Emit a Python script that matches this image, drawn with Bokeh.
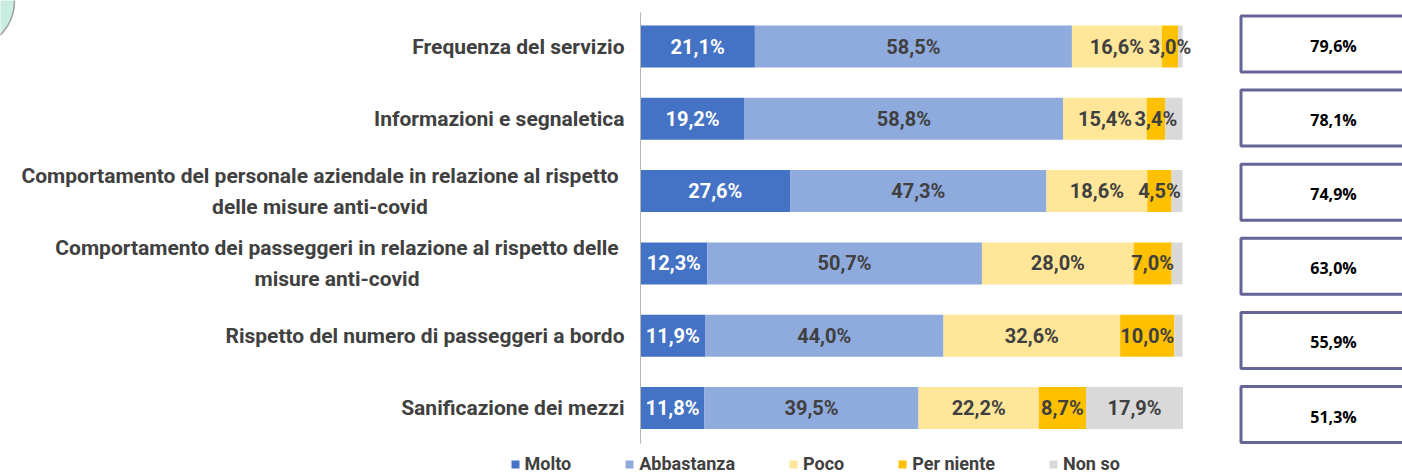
import numpy as np
from bokeh.plotting import figure
from bokeh.models import ColumnDataSource, Range1d, Legend, LegendItem
from bokeh.core.properties import value
from bokeh.embed import file_html
from bokeh.resources import INLINE

# ---------------- data ----------------
categories = [
    "Frequenza del servizio",
    "Informazioni e segnaletica",
    "Comportamento del personale aziendale in relazione al rispetto\ndelle misure anti-covid",
    "Comportamento dei passeggeri in relazione al rispetto delle\nmisure anti-covid",
    "Rispetto del numero di passeggeri a bordo",
    "Sanificazione dei mezzi",
]
series = ["Molto", "Abbastanza", "Poco", "Per niente", "Non so"]
molto = [21.1, 19.2, 27.6, 12.3, 11.9, 11.8]
abbastanza = [58.5, 58.8, 47.3, 50.7, 44.0, 39.5]
poco = [16.6, 15.4, 18.6, 28.0, 32.6, 22.2]
per_niente = [3.0, 3.4, 4.5, 7.0, 10.0, 8.7]
non_so = [0.8, 3.2, 2.0, 2.0, 1.5, 17.9]
soddisfatti = [79.6, 78.1, 74.9, 63.0, 55.9, 51.3]

# ---------------- style ----------------
colors = ["#4472C4", "#8FAADC", "#FFE699", "#FFC000", "#D9D9D9"]
label_colors = ["#FFFFFF", "#404040", "#404040", "#404040", "#404040"]
FONT_NAME = "Roboto"
FONT = value(FONT_NAME)
TXT = "#404040"

W, H = 1402, 473
PX = 5.42            # screen px per percentage point
X0 = 640             # frame px of 0 %
ROW = 72.3           # screen px between rows
Y0 = 46              # frame px of first row centre
xmin = -X0 / PX
xmax = xmin + W / PX
ytop = -Y0 / ROW
ybot = ytop + H / ROW


def fx(ix):  # screen pixel -> data x
    return (ix - X0) / PX


def fy(iy):  # screen pixel -> data y
    return iy / ROW + ytop


p = figure(width=W, height=H, x_range=Range1d(xmin, xmax),
           y_range=Range1d(start=ybot, end=ytop),
           output_backend="svg", toolbar_location=None,
           x_axis_location=None, y_axis_location=None,
           min_border=0, outline_line_color=None)
p.grid.visible = False
p.background_fill_color = "white"
p.border_fill_color = "white"

# decorative circle (top-left corner)
p.circle(x=[fx(-35)], y=[fy(0)], radius=49, radius_units="screen",
         fill_color="#C8EDDF", line_color="#A0A0A0", line_width=1.5)

rows = np.arange(len(categories))
vals = np.array([molto, abbastanza, poco, per_niente, non_so])
lefts = np.vstack([np.zeros(len(categories)), np.cumsum(vals, axis=0)[:-1]])
rights = lefts + vals
BAR_H = 42 / ROW

renderers = []
for k, name in enumerate(series):
    src = ColumnDataSource(dict(y=rows, left=lefts[k], right=rights[k]))
    r = p.hbar(y="y", left="left", right="right", height=BAR_H, source=src,
               fill_color=colors[k], line_color=None)
    renderers.append(r)

for k, name in enumerate(series):
    thr = 5 if name == "Non so" else 0
    mask = vals[k] >= thr
    lab = ColumnDataSource(dict(
        x=((lefts[k] + rights[k]) / 2)[mask], y=rows[mask],
        t=[f"{v:.1f}%".replace(".", ",") for v in vals[k][mask]]))
    p.text(x="x", y="y", text="t", source=lab, text_align="center",
           text_baseline="middle", text_font=FONT, text_font_size="20px",
           text_font_style="bold", text_color=label_colors[k])

# category axis line
p.segment(x0=[0], x1=[0], y0=[fy(12)], y1=[fy(443)], line_color="#B4B4B4", line_width=1)

# category labels
single = [i for i, c in enumerate(categories) if "\n" not in c]
multi = [i for i, c in enumerate(categories) if "\n" in c]
p.text(x=[fx(624)] * len(single), y=[rows[i] for i in single],
       text=[categories[i] for i in single], text_align="right", text_baseline="middle",
       text_font=FONT, text_font_size="21px", text_font_style="bold", text_color=TXT)
multi_cx = [319.5, 336.5]
p.text(x=[fx(c) for c in multi_cx], y=[rows[i] for i in multi],
       text=[categories[i] for i in multi], text_align="center", text_baseline="middle",
       text_line_height=1.3,
       text_font=FONT, text_font_size="21px", text_font_style="bold", text_color=TXT)

# boxes with the share of satisfied
box_c = np.array([fy(43.5 + 74.1 * i) for i in rows])
half = 28 / ROW
p.quad(left=fx(1240.5), right=xmax + 10, top=box_c - half, bottom=box_c + half,
       fill_color="white", line_color="#646497", line_width=3)
p.text(x=[fx(1333)] * len(rows), y=box_c + 2 / ROW,
       text=[f"{v:.1f}%".replace(".", ",") for v in soddisfatti],
       text_align="center", text_baseline="middle", text_font=value("Open Sans"),
       text_font_size="16px", text_font_style="bold", text_color="black")

legend = Legend(items=[LegendItem(label=s, renderers=[r]) for s, r in zip(series, renderers)],
                orientation="horizontal", location=(509.5, -1),
                glyph_width=10, glyph_height=10, label_standoff=5, spacing=53,
                padding=0, margin=0, border_line_alpha=0, background_fill_alpha=0,
                label_text_font=FONT_NAME, label_text_font_size="18px",
                label_text_font_style="bold", label_text_color=TXT, label_height=16)
p.add_layout(legend)

open("out.html", "w").write(file_html(p, INLINE))
